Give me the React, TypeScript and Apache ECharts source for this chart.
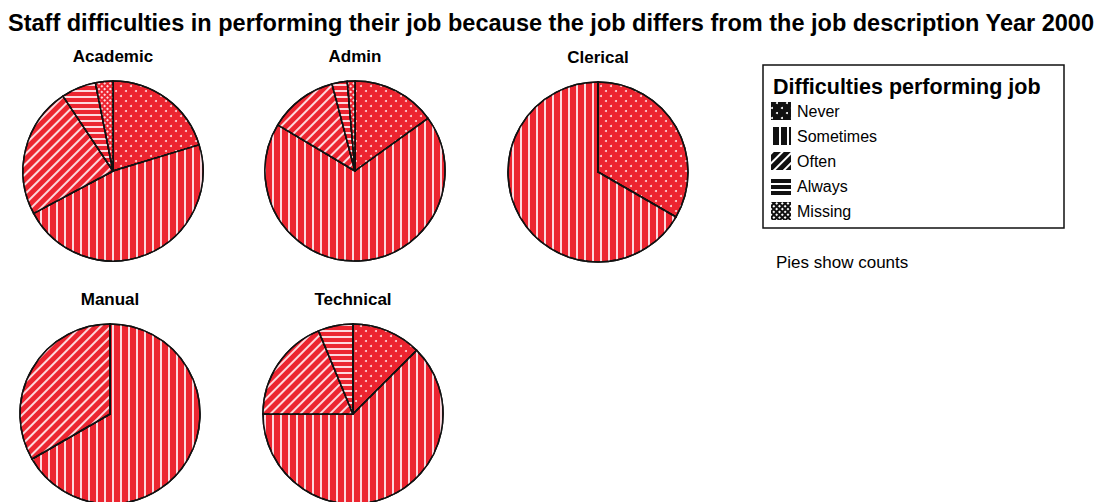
import React, { useEffect, useRef } from "react";
import * as echarts from "echarts";

const mainTitle =
  "Staff difficulties in performing their job because the job differs from the job description Year 2000";
const legendTitle = "Difficulties performing job";
const footNote = "Pies show counts";
const categories = ["Never", "Sometimes", "Often", "Always", "Missing"];
const groups = ["Academic", "Admin", "Clerical", "Manual", "Technical"];
const academic = [13, 30, 15, 4, 2];
const admin = [11, 50, 9, 2, 1];
const clerical = [1, 2, 0, 0, 0];
const manual = [0, 2, 1, 0, 0];
const technical = [2, 10, 3, 1, 0];
const groupValues = [academic, admin, clerical, manual, technical];

const centers: [number, number][] = [
  [113, 171],
  [355, 171],
  [598, 172],
  [110, 414],
  [353, 414],
];
const RADIUS = 90;
const RED = "#ec2530";
const FONT = "'Liberation Sans', Arial, Helvetica, sans-serif";

function decalFor(i: number, color: string): any {
  switch (i) {
    case 0:
      return {
        symbol: "circle",
        symbolSize: 1,
        color,
        dashArrayX: [[2, 8], [0, 5, 2, 3]],
        dashArrayY: [2, 3],
        rotation: 0,
      };
    case 1:
      return {
        symbol: "rect",
        symbolSize: 1,
        color,
        dashArrayX: [1.5, 5.5],
        dashArrayY: [1, 0],
        rotation: 0,
      };
    case 2:
      return {
        symbol: "rect",
        symbolSize: 1,
        color,
        dashArrayX: [1, 0],
        dashArrayY: [1.5, 5],
        rotation: -Math.PI / 4,
      };
    case 3:
      return {
        symbol: "rect",
        symbolSize: 1,
        color,
        dashArrayX: [1, 0],
        dashArrayY: [1.5, 4],
        rotation: 0,
      };
    default:
      return {
        symbol: "rect",
        symbolSize: 1,
        color,
        dashArrayX: [1.5, 1.5],
        dashArrayY: [1.5, 1.5],
        rotation: Math.PI / 4,
      };
  }
}

export default function App() {
  const ref = useRef<HTMLDivElement>(null);
  useEffect(() => {
    document.body.style.margin = "0";
    const chart = echarts.init(ref.current!, null, { renderer: "svg" });
    const series: any[] = groups.map((g, gi) => ({
      type: "pie",
      name: g,
      center: centers[gi],
      radius: RADIUS,
      startAngle: 90,
      clockwise: true,
      silent: true,
      label: { show: false },
      labelLine: { show: false },
      emphasis: { disabled: true },
      itemStyle: { color: RED, borderColor: "#111", borderWidth: 1.5 },
      data: categories.map((c, ci) => ({
        name: c,
        value: groupValues[gi][ci],
        itemStyle: {
          color: RED,
          decal: decalFor(ci, "rgba(255,235,240,0.9)"),
        },
      })),
    }));
    const graphics: any[] = [
      {
        type: "text",
        x: 8,
        y: 23,
        style: {
          text: mainTitle,
          font: `bold 23.5px ${FONT}`,
          fill: "#000",
          textVerticalAlign: "middle",
        },
      },
      ...groups.map((g, gi) => ({
        type: "text",
        x: centers[gi][0],
        y: centers[gi][1] - 115,
        style: {
          text: g,
          font: `bold 17px ${FONT}`,
          fill: "#000",
          textAlign: "center",
          textVerticalAlign: "middle",
        },
      })),
      {
        type: "rect",
        shape: { x: 763, y: 65, width: 301, height: 163 },
        style: { fill: "none", stroke: "#111", lineWidth: 1.5 },
      },
      {
        type: "text",
        x: 773,
        y: 87,
        style: {
          text: legendTitle,
          font: `bold 21.5px ${FONT}`,
          fill: "#000",
          textVerticalAlign: "middle",
        },
      },
      {
        type: "text",
        x: 776,
        y: 262,
        style: {
          text: footNote,
          font: `17px ${FONT}`,
          fill: "#000",
          textVerticalAlign: "middle",
        },
      },
    ];
    chart.setOption({
      animation: false,
      backgroundColor: "#fff",
      legend: {
        orient: "vertical",
        left: 771,
        top: 102,
        padding: 0,
        itemWidth: 20,
        itemHeight: 18,
        itemGap: 7,
        icon: "rect",
        selectedMode: false,
        textStyle: { fontSize: 16, fontFamily: FONT, color: "#000", padding: [0, 0, 0, 1] },
        data: categories.map((c, ci) => ({
          name: c,
          icon: "rect",
          itemStyle: { color: "#111", borderWidth: 0, decal: decalFor(ci, "#fff") },
        })),
      },
      series,
      graphic: graphics,
    });
    return () => chart.dispose();
  }, []);
  return <div ref={ref} style={{ width: 1116, height: 502 }} />;
}
